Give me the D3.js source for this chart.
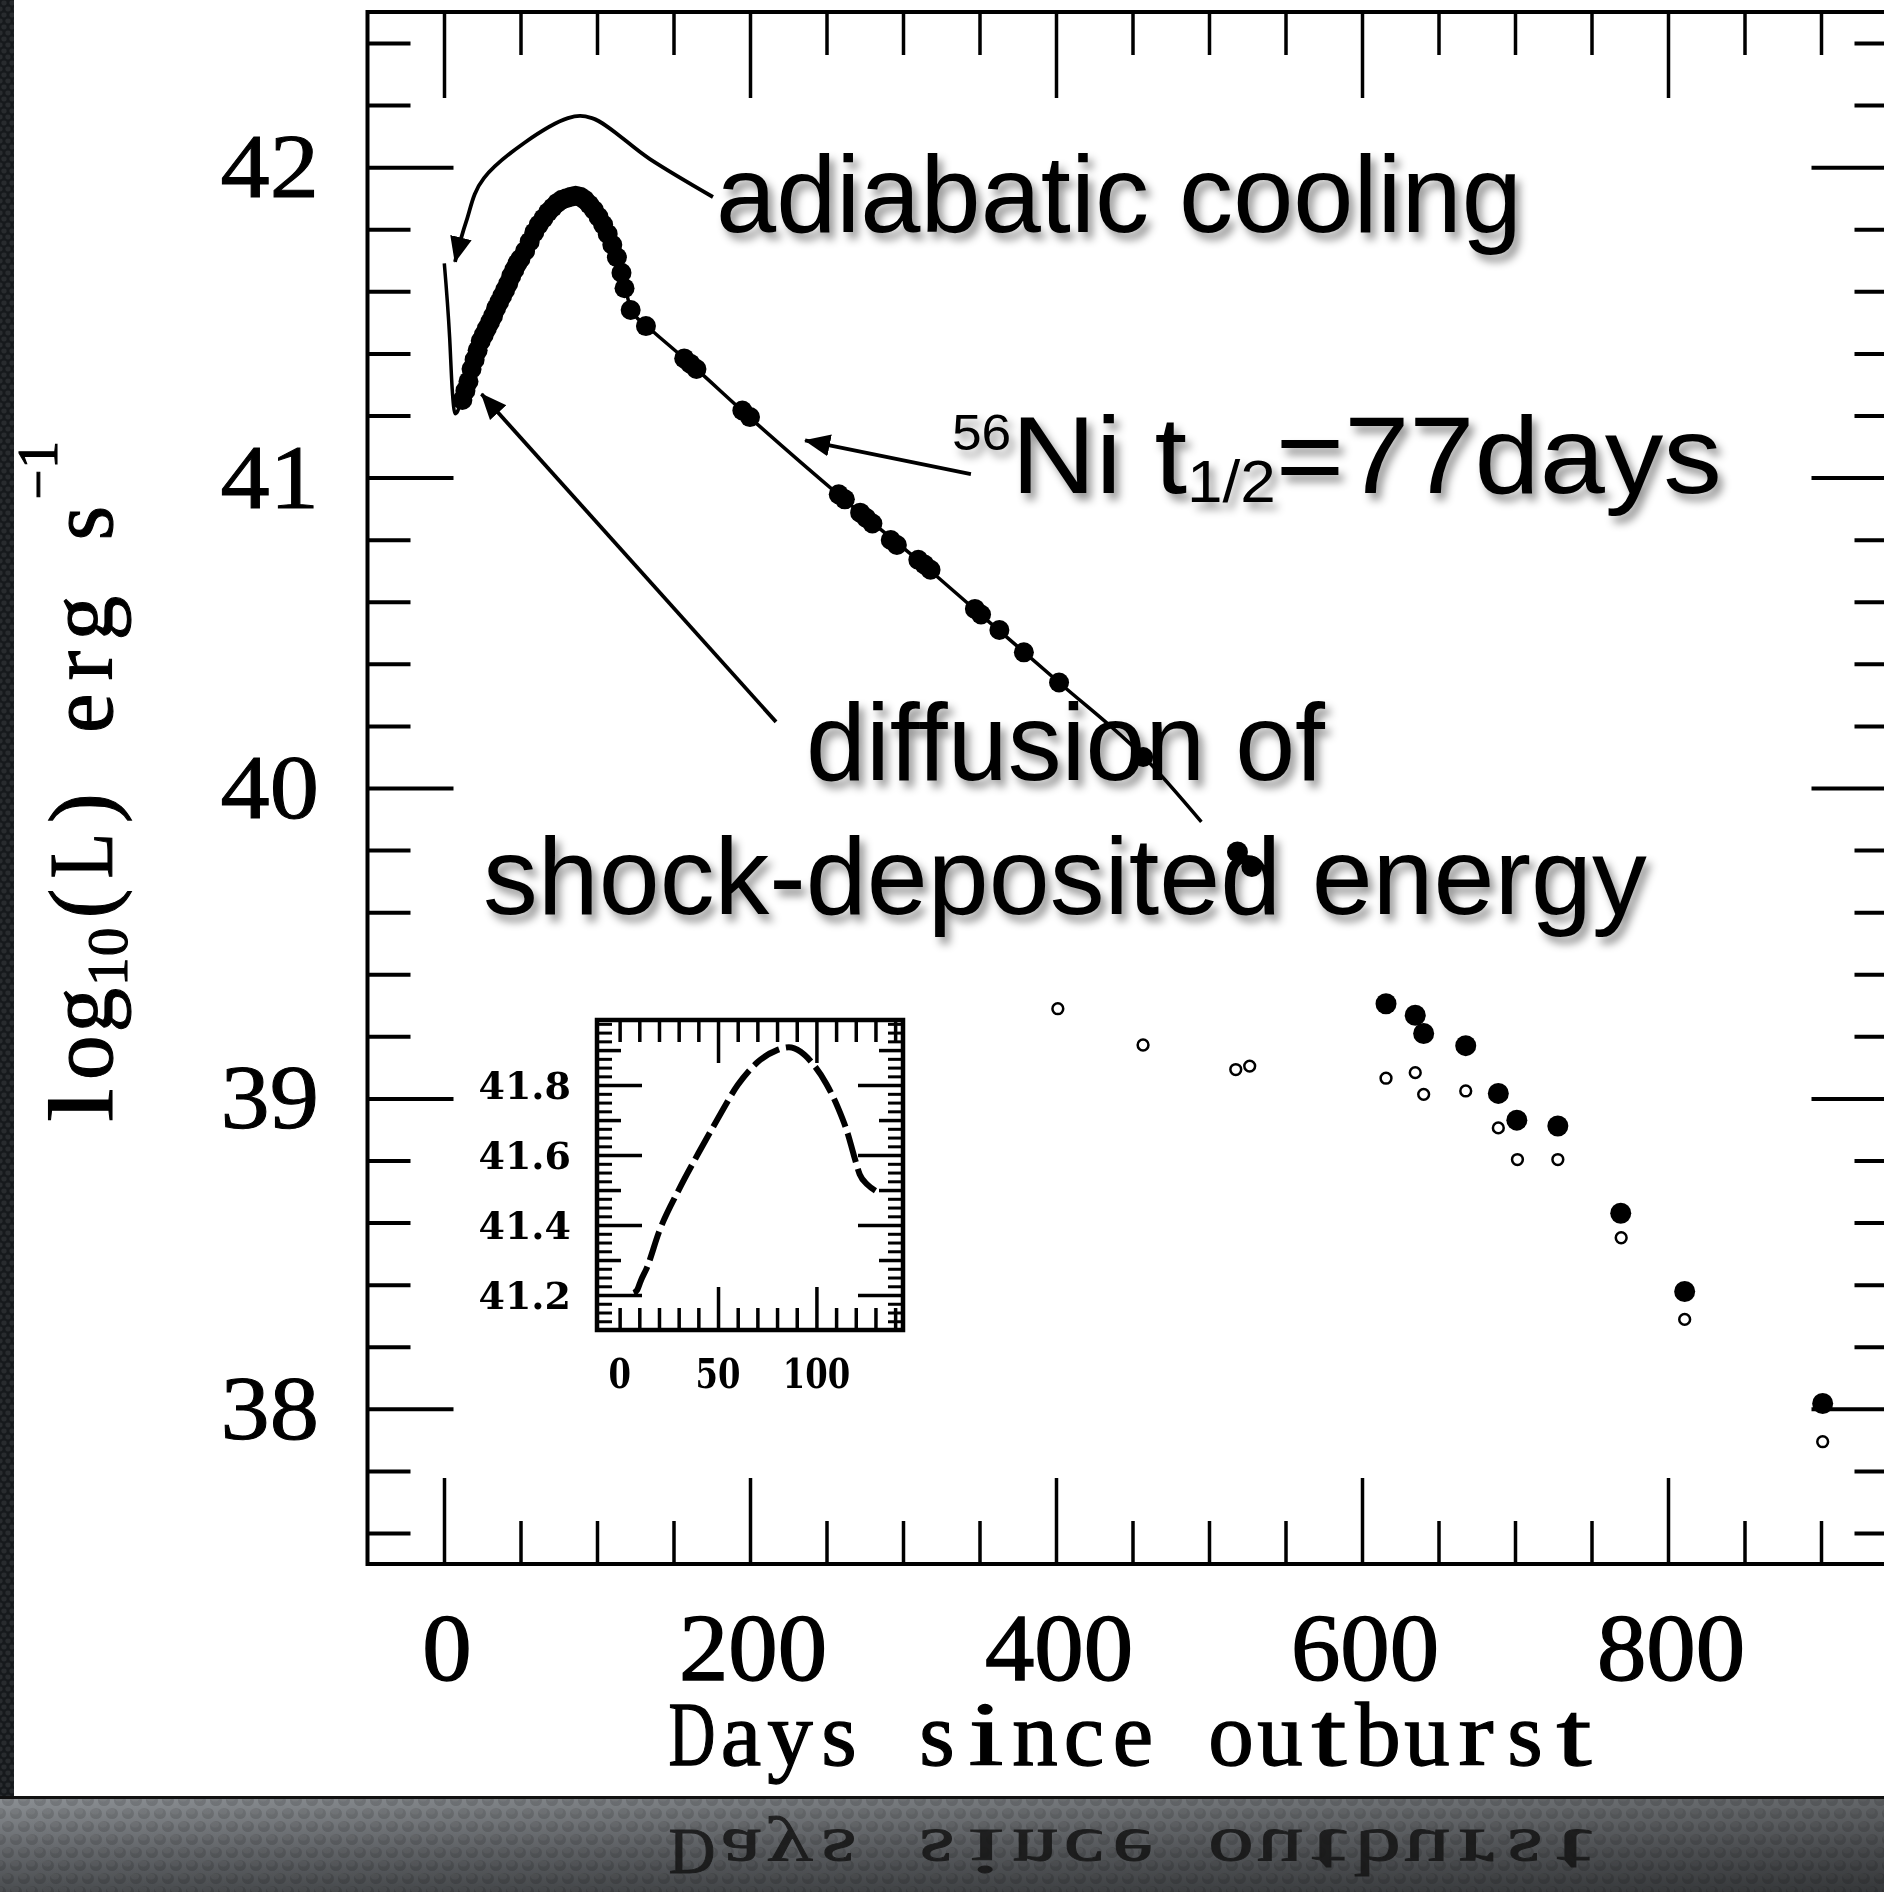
<!DOCTYPE html>
<html>
<head>
<meta charset="utf-8">
<script src="https://cdn.jsdelivr.net/npm/d3@7"></script>
<style>
  html, body { margin: 0; padding: 0; background: #ffffff; }
  svg { display: block; }
</style>
</head>
<body>
<script>
// ---------------- data ----------------
// axis ticks
const dayTicks = [0, 200, 400, 600, 800];
const lumTicks = [38, 39, 40, 41, 42];
const insetDayTicks = [0, 50, 100];
const insetLumTicks = [41.2, 41.4, 41.6, 41.8];

// model light curve (thin line): shock breakout spike, diffusion peak, 56Co tail
const modelDays = [0.2, 3.7, 5.3, 7.2, 9, 10.7, 14, 20, 30, 40, 50, 60, 70, 80, 86, 92, 98, 105, 111, 116, 119, 122, 126, 130, 135, 161, 197, 260, 311, 350, 402, 459, 495];
const modelLum  = [41.69, 41.45, 41.29, 41.206, 41.215, 41.24, 41.28, 41.38, 41.50, 41.605, 41.705, 41.80, 41.865, 41.90, 41.908, 41.895, 41.862, 41.804, 41.735, 41.66, 41.60, 41.545, 41.515, 41.498, 41.477, 41.367, 41.206, 40.936, 40.729, 40.562, 40.34, 40.092, 39.891];

// bolometric observations, first months
const earlyDays = [12, 14, 16, 18, 20, 22, 24, 26, 28, 30, 32, 34, 36, 38, 40, 42, 44, 46, 48, 50, 53, 56, 59, 62, 65, 68, 71, 74, 77, 80, 83, 86, 89, 92, 95, 98, 101, 104, 107, 110, 113, 116, 118, 122, 132];
const earlyLum  = [41.25, 41.28, 41.31, 41.35, 41.38, 41.41, 41.44, 41.46, 41.48, 41.50, 41.52, 41.545, 41.565, 41.585, 41.605, 41.625, 41.65, 41.67, 41.69, 41.705, 41.73, 41.76, 41.79, 41.815, 41.835, 41.855, 41.87, 41.885, 41.895, 41.90, 41.905, 41.908, 41.905, 41.895, 41.88, 41.862, 41.84, 41.815, 41.785, 41.75, 41.71, 41.66, 41.61, 41.54, 41.488];

// bolometric observations on the radioactive tail
const tailDays = [157, 161, 165, 195, 200, 258, 262, 272, 276, 280, 292, 296, 310, 314, 318, 347, 351, 363, 379, 402, 457];
const tailLum  = [41.384, 41.367, 41.350, 41.216, 41.195, 40.946, 40.930, 40.887, 40.870, 40.852, 40.799, 40.783, 40.735, 40.720, 40.703, 40.577, 40.559, 40.509, 40.437, 40.340, 40.100];

// late-time points: filled and open symbols
const lateFilledDays = [518.6, 528, 615.7, 634.8, 640.3, 667.8, 689.1, 701.2, 728, 769.1, 810.9, 901.1];
const lateFilledLum  = [39.794, 39.747, 39.305, 39.268, 39.209, 39.17, 39.016, 38.93, 38.911, 38.63, 38.378, 38.017];
const lateOpenDays = [401.2, 456.9, 517.5, 526.6, 615.7, 634.8, 640.3, 667.8, 689.1, 701.6, 728, 769.4, 810.9, 901.1];
const lateOpenLum  = [39.289, 39.172, 39.093, 39.104, 39.065, 39.083, 39.013, 39.024, 38.905, 38.803, 38.803, 38.551, 38.288, 37.894];

// annotation arrows, in data units (days, log L)
const coolArrowDays = [175.8, 134.6, 96.7, 81.0, 26.1, 14.4, 7.2];
const coolArrowLum  = [41.904, 42.026, 42.158, 42.158, 41.965, 41.823, 41.695];
const nickelArrowDays = [344.4, 236];
const nickelArrowLum  = [41.011, 41.12];
const diffArrowDays = [217, 24.5];
const diffArrowLum  = [40.213, 41.269];

// ---------------- layout ----------------
const W = 1884, H = 1892;
const svg = d3.select("body").append("svg").attr("width", W).attr("height", H);
const defs = svg.append("defs");

const x = d3.scaleLinear().domain([-50, 950]).range([367.5, 1897.5]);
const y = d3.scaleLinear().domain([37.5, 42.5]).range([1564, 12]);

const ix = d3.scaleLinear().domain([-11.5, 144]).range([597, 903]);
const iy = d3.scaleLinear().domain([41.1, 41.986]).range([1330, 1020]);

// soft drop shadow for the callout text
const shadow = defs.append("filter").attr("id", "soft-shadow")
  .attr("x", "-5%").attr("y", "-20%").attr("width", "115%").attr("height", "160%");
shadow.append("feDropShadow").attr("dx", 5).attr("dy", 7).attr("stdDeviation", 4.5)
  .attr("flood-color", "#000").attr("flood-opacity", 0.42);

// arrow head
defs.append("marker").attr("id", "arrow-head")
  .attr("viewBox", "0 -12 26 24").attr("refX", 25).attr("refY", 0)
  .attr("markerWidth", 26).attr("markerHeight", 24)
  .attr("markerUnits", "userSpaceOnUse").attr("orient", "auto")
  .append("path").attr("d", "M0,-11L26,0L0,11Z").attr("fill", "#000");

// backdrop textures
const bannerGrad = defs.append("linearGradient").attr("id", "banner-grad")
  .attr("x1", 0).attr("y1", 0).attr("x2", 0).attr("y2", 1);
bannerGrad.append("stop").attr("offset", 0).attr("stop-color", "#8a8e92");
bannerGrad.append("stop").attr("offset", 0.55).attr("stop-color", "#65686c");
bannerGrad.append("stop").attr("offset", 1).attr("stop-color", "#4a4d50");
const sideShade = defs.append("linearGradient").attr("id", "side-shade")
  .attr("x1", 0).attr("y1", 0).attr("x2", 1).attr("y2", 0);
sideShade.append("stop").attr("offset", 0).attr("stop-color", "#000").attr("stop-opacity", 0);
sideShade.append("stop").attr("offset", 1).attr("stop-color", "#000").attr("stop-opacity", 0.28);
const mesh = defs.append("pattern").attr("id", "mesh")
  .attr("width", 16).attr("height", 26).attr("patternUnits", "userSpaceOnUse");
[[8, 6.5], [0, 19.5], [16, 19.5]].forEach(([cx, cy]) => {
  mesh.append("ellipse").attr("cx", cx).attr("cy", cy).attr("rx", 6).attr("ry", 5.5)
    .attr("fill", "#000").attr("fill-opacity", 0.14);
  mesh.append("ellipse").attr("cx", cx - 1).attr("cy", cy - 2).attr("rx", 4).attr("ry", 3)
    .attr("fill", "#fff").attr("fill-opacity", 0.05);
});
const darkMesh = defs.append("pattern").attr("id", "dark-mesh")
  .attr("width", 8).attr("height", 12).attr("patternUnits", "userSpaceOnUse");
[[4, 3], [0, 9], [8, 9]].forEach(([cx, cy]) => {
  darkMesh.append("ellipse").attr("cx", cx).attr("cy", cy).attr("rx", 2.6).attr("ry", 2.4)
    .attr("fill", "#fff").attr("fill-opacity", 0.08);
});
defs.append("clipPath").attr("id", "banner-clip")
  .append("rect").attr("x", 0).attr("y", 1799).attr("width", W).attr("height", H - 1799);

svg.append("rect").attr("width", W).attr("height", H).attr("fill", "#fff");

// ---------------- fonts and text helpers ----------------
const SANS = "'Liberation Sans', Arial, Helvetica, sans-serif";
const SERIF = "'Liberation Serif', 'Times New Roman', serif";
const BOLD_SERIF = "'DejaVu Serif', serif";

// callout text stretched to a given horizontal span
function fitted(parent, x0, x1, baseline, build) {
  const t = parent.append("text").attr("font-family", SANS).attr("font-size", 110).attr("fill", "#000");
  build(t);
  const w = t.node().getComputedTextLength();
  t.attr("transform", `translate(${x0},${baseline}) scale(${(x1 - x0) / w},1)`);
  return t;
}

// typewriter-style run: each glyph centred in a fixed-width cell,
// its width clamped so that the run has an even typewriter colour
function typewriter(parent, segments, strokeW) {
  let cx = 0;
  segments.forEach(s => {
    for (const ch of s.text) {
      if (ch !== " ") {
        const t = parent.append("text").attr("font-family", SERIF).attr("font-size", s.size)
          .attr("text-anchor", "middle").attr("fill", "currentColor")
          .attr("stroke", "currentColor").attr("stroke-width", strokeW).text(ch);
        const w = t.node().getComputedTextLength();
        const k = Math.min(Math.max(w, s.minW), s.maxW) / w;
        t.attr("transform", `translate(${cx + s.cell / 2},${s.shift}) scale(${k},1)`);
      }
      cx += s.cell;
    }
  });
  return cx;
}

// ---------------- callout text ----------------
const notes = svg.append("g").attr("filter", "url(#soft-shadow)");
fitted(notes, 716, 1522, 232, t => t.text("adiabatic cooling"));
fitted(notes, 952, 1722, 493, t => {
  t.append("tspan").attr("font-size", 50).attr("dy", -43).text("56");
  t.append("tspan").attr("dy", 43).text("Ni t");
  t.append("tspan").attr("font-size", 60).attr("dy", 9).text("1/2");
  t.append("tspan").attr("dy", -9).text("=77days");
});
fitted(notes, 806, 1325, 780, t => t.text("diffusion of"));
fitted(notes, 483, 1647, 914, t => t.text("shock-deposited energy"));

// ---------------- main frame and ticks ----------------
function tickSet(parent, axisFn, scale, values, size, transform, width) {
  parent.append("g").attr("transform", transform)
    .call(axisFn(scale).tickValues(values).tickSize(size).tickFormat(""))
    .call(g => g.select(".domain").remove())
    .selectAll("line").attr("stroke", "#000").attr("stroke-width", width);
}
const frame = svg.append("g");
const dayMinor = d3.range(-50, 951, 50).filter(d => !dayTicks.includes(d) && d > -50 && d < 950);
const lumMinor = d3.range(376, 425, 2).map(v => v / 10).filter(v => !lumTicks.includes(v));
const [xl, xr] = x.range(), [yb, yt] = y.range();
tickSet(frame, d3.axisLeft, y, lumTicks, -86, `translate(${xl},0)`, 4);
tickSet(frame, d3.axisLeft, y, lumMinor, -43, `translate(${xl},0)`, 4);
tickSet(frame, d3.axisRight, y, lumTicks, -86, `translate(${xr},0)`, 4);
tickSet(frame, d3.axisRight, y, lumMinor, -43, `translate(${xr},0)`, 4);
tickSet(frame, d3.axisBottom, x, dayTicks, -86, `translate(0,${yb})`, 3.5);
tickSet(frame, d3.axisBottom, x, dayMinor, -43, `translate(0,${yb})`, 3.5);
tickSet(frame, d3.axisTop, x, dayTicks, -86, `translate(0,${yt})`, 3.5);
tickSet(frame, d3.axisTop, x, dayMinor, -43, `translate(0,${yt})`, 3.5);
frame.append("rect").attr("x", xl).attr("y", yt).attr("width", xr - xl).attr("height", yb - yt)
  .attr("fill", "none").attr("stroke", "#000").attr("stroke-width", 4);

// tick labels
svg.append("g").selectAll("text").data(lumTicks).join("text")
  .attr("font-family", SERIF).attr("font-size", 92).attr("text-anchor", "end").attr("fill", "#000")
  .attr("stroke", "#000").attr("stroke-width", 1)
  .attr("transform", v => `translate(319,${y(v) + 30}) scale(1.07,1)`)
  .text(v => v);
svg.append("g").selectAll("text").data(dayTicks).join("text")
  .attr("font-family", SERIF).attr("font-size", 95).attr("text-anchor", "middle").attr("fill", "#000")
  .attr("stroke", "#000").attr("stroke-width", 1.4)
  .attr("transform", d => `translate(${x(d) + 3},1680) scale(1.04,1)`)
  .text(d => d);

// x axis title (typewriter cells)
const xTitleText = "Days since outburst";
const xTitleStyle = { text: xTitleText, cell: 49, size: 91, shift: 0, minW: 35, maxW: 47 };
const xTitle = svg.append("g").attr("color", "#000");
const xTitleLen = typewriter(xTitle, [xTitleStyle], 1.3);
xTitle.attr("transform", `translate(${1133 - xTitleLen / 2},1765)`);

// y axis title (typewriter cells, rotated)
const yTitle = svg.append("g").attr("color", "#000");
const yTitleLen = typewriter(yTitle, [
  { text: "log", cell: 48, size: 90, shift: 0, minW: 34, maxW: 46 },
  { text: "10", cell: 30, size: 58, shift: 15, minW: 20, maxW: 29 },
  { text: "(L) erg s", cell: 48, size: 90, shift: 0, minW: 30, maxW: 46 },
  { text: "\u22121", cell: 30, size: 56, shift: -55, minW: 20, maxW: 30 }
], 1.1);
yTitle.attr("transform", `translate(112,1129) rotate(-90) scale(${689 / yTitleLen},1)`);

// ---------------- light curve ----------------
const plot = svg.append("g");
const model = modelDays.map((d, i) => [d, modelLum[i]]);
plot.append("path").datum(model)
  .attr("d", d3.line().x(p => x(p[0])).y(p => y(p[1])).curve(d3.curveMonotoneX))
  .attr("fill", "none").attr("stroke", "#000").attr("stroke-width", 3.5);

const filled = earlyDays.map((d, i) => [d, earlyLum[i]])
  .concat(tailDays.map((d, i) => [d, tailLum[i]]));
plot.append("g").selectAll("circle").data(filled).join("circle")
  .attr("cx", p => x(p[0])).attr("cy", p => y(p[1])).attr("r", 10).attr("fill", "#000");

plot.append("g").selectAll("circle").data(lateFilledDays.map((d, i) => [d, lateFilledLum[i]])).join("circle")
  .attr("cx", p => x(p[0])).attr("cy", p => y(p[1])).attr("r", 10.5).attr("fill", "#000");
plot.append("g").selectAll("circle").data(lateOpenDays.map((d, i) => [d, lateOpenLum[i]])).join("circle")
  .attr("cx", p => x(p[0])).attr("cy", p => y(p[1])).attr("r", 5.4)
  .attr("fill", "none").attr("stroke", "#000").attr("stroke-width", 2.5);

// ---------------- callout arrows ----------------
function arrow(days, lums, curve) {
  svg.append("path").datum(days.map((d, i) => [d, lums[i]]))
    .attr("d", d3.line().x(p => x(p[0])).y(p => y(p[1])).curve(curve))
    .attr("fill", "none").attr("stroke", "#000").attr("stroke-width", 3.8)
    .attr("stroke-linejoin", "round")
    .attr("marker-end", "url(#arrow-head)");
}
arrow(coolArrowDays, coolArrowLum, d3.curveCatmullRom.alpha(0.5));
arrow(nickelArrowDays, nickelArrowLum, d3.curveLinear);
arrow(diffArrowDays, diffArrowLum, d3.curveLinear);

// ---------------- inset: first 140 days ----------------
const inset = svg.append("g");
inset.append("rect").attr("x", 597).attr("y", 1020).attr("width", 306).attr("height", 310).attr("fill", "#fff");
const [ixl, ixr] = ix.range(), [iyb, iyt] = iy.range();
const iDayMinor = d3.range(0, 141, 10).filter(d => !insetDayTicks.includes(d) || d === 0);
const iDayMajor = insetDayTicks.filter(d => d !== 0);
const iLumMed = [41.3, 41.5, 41.7, 41.9];
const iLumSmall = d3.range(41100, 41986, 25).map(v => v / 1000)
  .filter(v => Math.abs(Math.round(v * 10) - v * 10) > 1e-6);
tickSet(inset, d3.axisLeft, iy, insetLumTicks, -45, `translate(${ixl},0)`, 3.5);
tickSet(inset, d3.axisLeft, iy, iLumMed, -24, `translate(${ixl},0)`, 3.5);
tickSet(inset, d3.axisLeft, iy, iLumSmall, -15, `translate(${ixl},0)`, 3);
tickSet(inset, d3.axisRight, iy, insetLumTicks, -45, `translate(${ixr},0)`, 3.5);
tickSet(inset, d3.axisRight, iy, iLumMed, -24, `translate(${ixr},0)`, 3.5);
tickSet(inset, d3.axisRight, iy, iLumSmall, -15, `translate(${ixr},0)`, 3);
tickSet(inset, d3.axisBottom, ix, iDayMajor, -43, `translate(0,${iyb})`, 3.5);
tickSet(inset, d3.axisBottom, ix, iDayMinor, -22, `translate(0,${iyb})`, 3.5);
tickSet(inset, d3.axisTop, ix, iDayMajor, -43, `translate(0,${iyt})`, 3.5);
tickSet(inset, d3.axisTop, ix, iDayMinor, -22, `translate(0,${iyt})`, 3.5);
inset.append("rect").attr("x", ixl).attr("y", iyt).attr("width", ixr - ixl).attr("height", iyb - iyt)
  .attr("fill", "none").attr("stroke", "#000").attr("stroke-width", 4.5);

const insetCurve = modelDays.map((d, i) => [d, modelLum[i]]).filter(p => p[0] >= 7 && p[0] <= 132);
inset.append("path").datum(insetCurve)
  .attr("d", d3.line().x(p => ix(p[0])).y(p => iy(p[1])).curve(d3.curveMonotoneX))
  .attr("fill", "none").attr("stroke", "#000").attr("stroke-width", 6)
  .attr("stroke-dasharray", "30 7");

inset.append("g").selectAll("text").data(insetLumTicks).join("text")
  .attr("font-family", BOLD_SERIF).attr("font-weight", "bold").attr("font-size", 38)
  .attr("text-anchor", "end").attr("fill", "#000")
  .attr("transform", v => `translate(571,${iy(v) + 14})`)
  .text(v => v.toFixed(1));
inset.append("g").selectAll("text").data(insetDayTicks).join("text")
  .attr("font-family", BOLD_SERIF).attr("font-weight", "bold").attr("font-size", 38)
  .attr("text-anchor", "middle").attr("fill", "#000")
  .attr("transform", d => `translate(${ix(d)},1388) scale(0.85,1.1)`)
  .text(d => d);

// ---------------- slide chrome: side strip and reflective floor ----------------
svg.append("rect").attr("x", 0).attr("y", 0).attr("width", 14).attr("height", H).attr("fill", "#16191c");
svg.append("rect").attr("x", 0).attr("y", 0).attr("width", 14).attr("height", H).attr("fill", "url(#dark-mesh)");

svg.append("rect").attr("x", 0).attr("y", 1799).attr("width", W).attr("height", H - 1799).attr("fill", "url(#banner-grad)");
svg.append("rect").attr("x", 0).attr("y", 1799).attr("width", W).attr("height", H - 1799).attr("fill", "url(#mesh)");
svg.append("rect").attr("x", 0).attr("y", 1799).attr("width", W).attr("height", H - 1799).attr("fill", "url(#side-shade)");
svg.append("rect").attr("x", 0).attr("y", 1796).attr("width", W).attr("height", 3).attr("fill", "#111");

const mirror = svg.append("g").attr("clip-path", "url(#banner-clip)")
  .append("g").attr("color", "#141414").attr("opacity", 0.85);
const mirrorLen = typewriter(mirror, [xTitleStyle], 1.3);
mirror.attr("transform", `translate(${1133 - mirrorLen / 2},1830) scale(1,-0.72)`);
</script>
</body>
</html>
